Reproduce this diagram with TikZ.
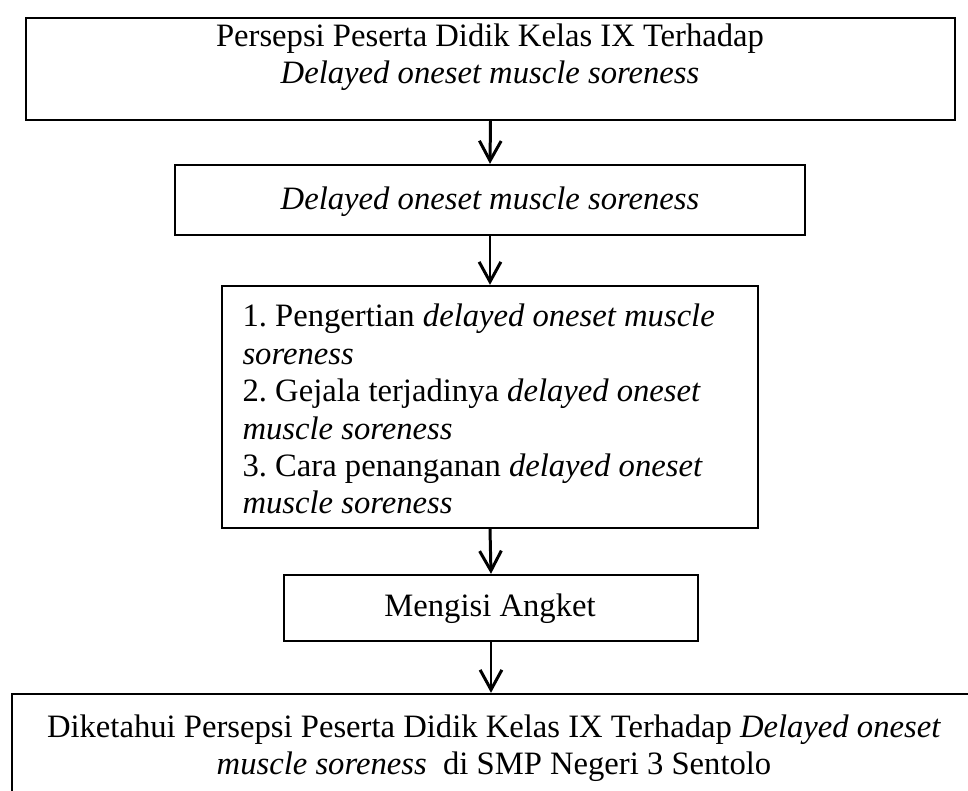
\documentclass[tikz,border=0pt]{standalone}
\usepackage{fontspec}
\setmainfont{Liberation Serif}
\usetikzlibrary{arrows.meta}
\frenchspacing
\def\u{0.3676pt}
\tikzset{
  box/.style={draw=black, line width=0.85pt, inner sep=0pt, minimum width=#1},
  txt/.style={anchor=base, inner sep=0pt, font=\fontsize{12pt}{13.8pt}\selectfont},
  ltxt/.style={anchor=base west, inner sep=0pt, font=\fontsize{12pt}{13.8pt}\selectfont},
  flow/.style={line width=1.1pt, -{Straight Barb[length=7.3pt,width=8pt]}}
}
\begin{document}
\begin{tikzpicture}[x=\u, y=-\u]
\path[use as bounding box] (0,0) rectangle (968,791);
\clip (0,0) rectangle (968,791);
% boxes
\node[box=929*\u, minimum height=102*\u] (b1) at (490.5,69) {};
\node[box=630*\u, minimum height=70*\u] (b2) at (490,200) {};
\node[box=536*\u, minimum height=242*\u] (b3) at (490,407) {};
\node[box=414*\u, minimum height=66*\u] (b4) at (491,608) {};
\node[box=958*\u, minimum height=136*\u] (b5) at (491,762) {};
% texts
\node[txt] (t1a) at (490,47) {Persepsi Peserta Didik Kelas IX Terhadap};
\node[txt] (t1b) at (490,84) {\textit{Delayed oneset muscle soreness}};
\node[txt] (t2) at (490,210) {\textit{Delayed oneset muscle soreness}};
\node[ltxt] (t3a) at (242,327) {1. Pengertian \textit{delayed oneset muscle}};
\node[ltxt] (t3b) at (242,364.4) {\textit{soreness}};
\node[ltxt] (t3c) at (242,401.8) {2. Gejala terjadinya \textit{delayed oneset}};
\node[ltxt] (t3d) at (242,439.2) {\textit{muscle soreness}};
\node[ltxt] (t3e) at (242,476.6) {3. Cara penanganan \textit{delayed oneset}};
\node[ltxt] (t3f) at (242,514) {\textit{muscle soreness}};
\node[txt] (t4) at (490,617) {Mengisi Angket};
\node[txt] (t5a) at (494,738) {Diketahui Persepsi Peserta Didik Kelas IX Terhadap \textit{Delayed oneset}};
\node[txt] (t5b) at (494,775) {\textit{muscle soreness}\ \ di SMP Negeri 3 Sentolo};
% connectors
\draw[flow] (b1.south) -- (b2.north);
\draw[flow] (b2.south) -- (b3.north);
\draw[flow] (b3.south) -- (b4.north);
\draw[flow] (b4.south) -- (b5.north);
\end{tikzpicture}
\end{document}
